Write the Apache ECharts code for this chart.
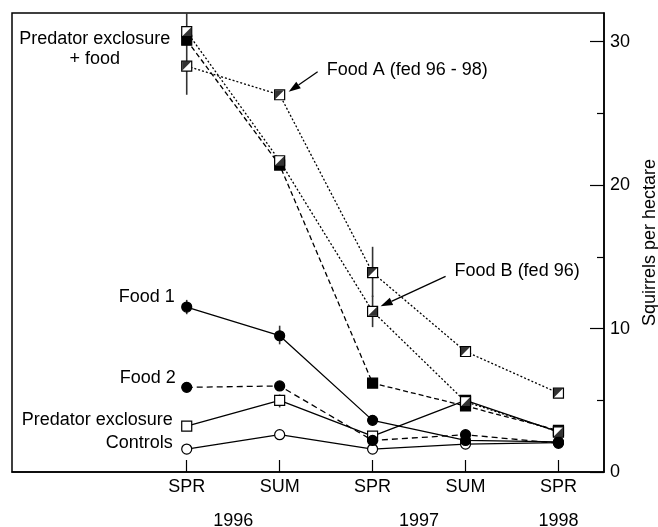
<!DOCTYPE html>
<html><head><meta charset="utf-8">
<script src="https://cdn.jsdelivr.net/npm/echarts@6/dist/echarts.min.js"></script>
<style>html,body{margin:0;padding:0;background:#fff}#c{width:658px;height:527px}</style>
</head><body><div id="c"></div>
<script>
const seasons = ['SPR','SUM','SPR','SUM','SPR'];
const seasonPos = [0,1,2,3,4];
const years = ['1996','1997','1998'];
const yearPos = [0.5, 2.5, 4];
const yTicks = [0,10,20,30];
const yMinor = [5,15,25];

const foodA    = [28.3, 26.3, 13.9, 8.4, 5.5];
const foodB    = [30.7, 21.7, 11.2, 4.9, 2.8];
const predFood = [30.1, 21.4, 6.2, 4.6, 2.9];
const food1    = [11.5, 9.5, 3.6, 2.2, 2.1];
const food2    = [5.9, 6.0, 2.2, 2.6, 2.0];
const predExcl = [3.2, 5.0, 2.5, 5.0, 2.8];
const controls = [1.6, 2.6, 1.6, 1.95, 2.05];

const errX    = [0, 2, 2, 0, 1, 1];
const errLow  = [26.3, 12.2, 10.1, 11.0, 8.9, 4.5];
const errHigh = [32, 15.7, 12.3, 12.0, 10.2, 5.4];

const FONT = '"Liberation Sans", Arial, Helvetica, sans-serif';
const FS = 18;
const chart = echarts.init(document.getElementById('c'), null, {renderer:'canvas'});

const pts = arr => arr.map((v,i)=>[seasonPos[i], v]);
function lineSeries(name, data, dash, symbol, fill){
  return {type:'line', name, data: pts(data), symbol, symbolSize: 10,
    lineStyle:{color:'#000', width:1.3, type:dash},
    itemStyle:{color:fill, borderColor:'#000', borderWidth:1.2},
    emphasis:{disabled:true}, z:3};
}
function halfSeries(name, data, path){
  return {type:'scatter', name, data: pts(data), symbol: path, symbolSize: 9,
    itemStyle:{color:'#000', borderWidth:0}, emphasis:{disabled:true}, z:4};
}

const option = {
  animation:false,
  textStyle:{fontFamily:FONT},
  grid:{left:12, right:54, top:13, bottom:55, show:true, borderColor:'#000', borderWidth:1.5,
        containLabel:false, outerBoundsMode:'none'},
  xAxis:[{
    type:'value', min:-1.88, max:4.49,
    axisLine:{show:true, onZero:false, lineStyle:{color:'#000', width:1.5}},
    axisTick:{show:true, inside:true, length:12, customValues:seasonPos, lineStyle:{color:'#000', width:1.2}},
    axisLabel:{customValues:seasonPos, formatter:v=>seasons[Math.round(v)], color:'#000', fontSize:FS, fontFamily:FONT, margin:6},
    splitLine:{show:false}
  },{
    type:'value', min:-1.88, max:4.49, position:'bottom', offset:32,
    axisLine:{show:false, onZero:false}, axisTick:{show:false},
    axisLabel:{customValues:yearPos, formatter:v=>years[yearPos.findIndex(p=>Math.abs(p-v)<1e-6)], color:'#000', fontSize:FS, fontFamily:FONT},
    splitLine:{show:false}
  }],
  yAxis:[{
    type:'value', min:0, max:32, position:'right',
    name:'Squirrels per hectare', nameLocation:'middle', nameRotate:90, nameGap:36,
    nameTextStyle:{fontSize:FS, fontFamily:FONT, color:'#000'},
    axisLine:{show:true, onZero:false, lineStyle:{color:'#000', width:1.5}},
    axisTick:{show:true, inside:true, length:14, customValues:yTicks, lineStyle:{color:'#000', width:1.2}},
    axisLabel:{customValues:yTicks, color:'#000', fontSize:FS, fontFamily:FONT, margin:6},
    splitLine:{show:false}
  },{
    type:'value', min:0, max:32, position:'right',
    axisLine:{show:false, onZero:false},
    axisTick:{show:true, inside:true, length:7, customValues:yMinor, lineStyle:{color:'#000', width:1.2}},
    axisLabel:{show:false}, splitLine:{show:false}
  }],
  series:[
    {type:'custom', name:'err', z:1, data: errX.map((x,i)=>[x, errLow[i], errHigh[i]]),
     renderItem:(params, api)=>{
       const a = api.coord([api.value(0), api.value(1)]);
       const b = api.coord([api.value(0), api.value(2)]);
       return {type:'line', shape:{x1:a[0], y1:a[1], x2:b[0], y2:b[1]}, style:{stroke:'#333', lineWidth:1.6}};
     }},
    lineSeries('Controls', controls, 'solid', 'circle', '#fff'),
    lineSeries('Predator exclosure', predExcl, 'solid', 'rect', '#fff'),
    lineSeries('Food 2', food2, [6,4], 'circle', '#000'),
    lineSeries('Food 1', food1, 'solid', 'circle', '#000'),
    lineSeries('Predator exclosure + food', predFood, [5,3], 'rect', '#000'),
    lineSeries('Food B (fed 96)', foodB, [2,2], 'rect', '#fff'),
    halfSeries('Food B half', foodB, 'path://M10,0 L10,10 L0,10 Z'),
    lineSeries('Food A (fed 96 - 98)', foodA, [2,2], 'rect', '#fff'),
    halfSeries('Food A half', foodA, 'path://M0,0 L10,0 L0,10 Z')
  ]
};
chart.setOption(option);

// annotations anchored to data points
const P = (i, arr) => chart.convertToPixel({xAxisIndex:0, yAxisIndex:0}, [seasonPos[i], arr[i]]);
const txt = (text, x, y, align) => ({type:'text', x, y, z:10,
  style:{text, fontSize:FS, fontFamily:FONT, fill:'#000', align, verticalAlign:'middle', lineHeight:20}});
function arrow(x1,y1,x2,y2){
  const ang = Math.atan2(y2-y1, x2-x1), L=12, W=4;
  const bx = x2 - L*Math.cos(ang), by = y2 - L*Math.sin(ang);
  const nx = -Math.sin(ang)*W, ny = Math.cos(ang)*W;
  return [
    {type:'line', z:10, shape:{x1, y1, x2:bx, y2:by}, style:{stroke:'#000', lineWidth:1.3}},
    {type:'polygon', z:10, shape:{points:[[x2,y2],[bx+nx,by+ny],[bx-nx,by-ny]]}, style:{fill:'#000'}}
  ];
}
const g = [];
let p;
p = P(0, food1);    g.push(txt('Food 1', p[0]-12, p[1]-10, 'right'));
p = P(0, food2);    g.push(txt('Food 2', p[0]-11, p[1]-9, 'right'));
p = P(0, predExcl); g.push(txt('Predator exclosure', p[0]-14, p[1]-6, 'right'));
p = P(0, controls); g.push(txt('Controls', p[0]-14, p[1]-6, 'right'));
p = P(0, foodB);    g.push(txt('Predator exclosure\n+ food', p[0]-92, p[1]+17, 'center'));
p = P(1, foodA);    g.push(txt('Food A (fed 96 - 98)', p[0]+47, p[1]-25, 'left'));
g.push(...arrow(p[0]+38, p[1]-23, p[0]+9, p[1]-3));
p = P(2, foodB);    g.push(txt('Food B (fed 96)', p[0]+82, p[1]-40, 'left'));
g.push(...arrow(p[0]+73, p[1]-35, p[0]+8, p[1]-5));
chart.setOption({graphic:g});
</script></body></html>
